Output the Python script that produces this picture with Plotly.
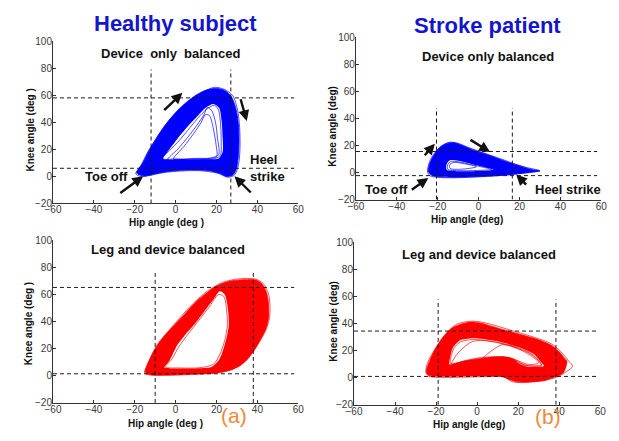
import plotly.graph_objects as go

W, H = 619, 441
FONT = "Liberation Sans, Arial, Helvetica, sans-serif"
BLUE = "#0000FF"
RED = "#FF0000"

# ---------------- gait loops: (hip angle, knee angle) in degrees ----------------
# Healthy subject, device only balanced
hs_dev_outer = [(-19, 2.5), (-16, 10), (-13, 19), (-9, 29), (-4.5, 39), (0.5, 48), (5.5, 55),
                (10.5, 60.5), (15.5, 64), (20, 65), (24, 63.5), (27, 59.5), (29.3, 51), (30.6, 40),
                (31, 27), (30.6, 14), (29.6, 5), (27.8, 0.8), (25, 0), (21.5, 2.3), (16.5, 4.2),
                (10, 4.8), (3, 4.6), (-4, 3.6), (-10.5, 1.8), (-15.5, 0.3), (-19, 2.5)]
hs_dev_inner = [(-6, 13), (-3, 20), (1, 28), (6, 37), (11, 45), (15, 51), (18.5, 53.5), (21.3, 50.5),
                (22.5, 41), (23, 29), (23, 18), (21, 13.3), (15, 12.6), (8, 12.5), (1, 12.7), (-6, 13)]
hs_dev_cycles = [
    [(-19.5, 2), (-17, 8), (-14, 17), (-10, 27), (-5, 38), (1, 48), (7, 56), (13, 62), (19, 65.8),
     (24, 64.2), (28, 59.5), (30.3, 49), (31.3, 36), (31.5, 22), (30.8, 9), (28.8, 1), (25.5, -0.6),
     (20.5, 2.4), (12, 4.2), (3, 4), (-6, 2.8), (-13, 0.6), (-17, -0.2), (-19.5, 2)],
    [(-4, 12.2), (1, 20), (6, 29), (10.5, 38), (14, 46), (15.5, 51), (17.5, 49), (19.5, 40),
     (20.5, 28), (21, 16), (15, 13), (5, 12.6), (-4, 12.2)],
    [(-1, 12.8), (4, 22), (9, 32), (12.5, 40), (14.5, 45.5), (16.5, 45), (18.5, 35), (19.8, 23),
     (20, 14.5), (10, 13.3), (-1, 12.8)],
    [(-7, 13), (-3, 19), (2, 27), (7, 36), (12, 45), (16, 50.5), (19, 52.5), (21, 49), (22, 38),
     (22.3, 25), (22, 16), (19.5, 13.2), (10, 12.8), (0, 12.9), (-7, 13)],
]

# Stroke patient, device only balanced
sp_dev_outer = [(-24.6, 0.8), (-23.8, 7), (-22, 12.5), (-19, 18.5), (-15.5, 21.5), (-12, 22),
                (-8, 20), (-3, 16.8), (4, 13.3), (10, 10), (16, 6.8), (22, 3.9), (26.5, 2),
                (29.8, 1.2), (26, 0.3), (20, -0.8), (14, -1.8), (5, -2.6), (-4, -3.2), (-12, -3.5),
                (-19, -3.2), (-23, -2), (-24.6, 0.8)]
sp_dev_inner = [(-15.5, 1.8), (-15.8, 5.5), (-14, 9), (-10, 8.6), (-4, 6.5), (2, 4.3), (7.2, 2.1),
                (2, 1.3), (-5, 0.9), (-11, 1), (-15.5, 1.8)]
sp_dev_cycles = [
    [(-25, 0.5), (-24, 8), (-21.5, 14.5), (-18, 19.8), (-14, 22.4), (-10, 21.5), (-5, 18.5),
     (3, 14.2), (11, 10), (18, 6.2), (24, 3.5), (30, 1.3), (25, 0), (17, -1.2), (7, -2.6),
     (-4, -3.5), (-13, -3.9), (-20, -3.6), (-23.8, -2.4), (-25, 0.5)],
    [(-15, 2.2), (-15.2, 5.5), (-13.5, 8.2), (-9.5, 7.8), (-3.5, 5.8), (2.5, 3.8), (6.5, 2.2),
     (1, 1.6), (-6, 1.3), (-12, 1.5), (-15, 2.2)],
    [(-14, 3), (-14, 6), (-12, 7.5), (-7, 6.5), (-1, 4.3), (-7, 2.6), (-14, 3)],
]

# Healthy subject, leg and device balanced
hs_leg_outer = [(-14.7, 2.5), (-12.7, 12), (-8.7, 23), (-4.5, 31), (-0.7, 37.3), (3.5, 44),
                (7.3, 50.4), (11, 56), (15.2, 61.2), (19, 65.5), (23.2, 68.4), (27, 70), (31.2, 70.8),
                (35, 71), (39.1, 70.8), (42.2, 68), (44.3, 62), (45.3, 55), (45.5, 44.4), (44.8, 38),
                (43.6, 33), (40.8, 25), (38, 18), (35, 12), (31.5, 7.5), (27, 4.3), (21.6, 2.5),
                (14, 1.6), (7.3, 1.3), (0, 0.8), (-5.5, 0.6), (-11.9, 0.8), (-14.7, 2.5)]
hs_leg_inner = [(-5.5, 6.1), (-3.1, 10.9), (0.9, 22.9), (4.5, 30), (8.8, 37.3), (12.5, 44.5),
                (16, 51.6), (19, 57.5), (21.6, 62.4), (24, 60), (25.6, 49.2), (26, 37.3), (25.2, 30),
                (24, 22.9), (22.5, 16), (20.8, 10.9), (17.6, 6.5), (12, 5.6), (7.3, 5.4), (2, 5.4),
                (-2.3, 5.4), (-5.5, 6.1)]
hs_leg_cycles = [
    [(-15.2, 2), (-13, 11), (-9, 23), (-1, 37.5), (7, 51), (15, 62), (23, 69), (31, 71.6),
     (39, 71.5), (43, 68), (45.5, 60), (46.2, 50), (45.8, 42), (44.2, 34), (41, 25), (37.5, 17),
     (33, 10), (27.5, 5), (21, 2.4), (8, 1), (-5, 0.4), (-12, 0.5), (-15.2, 2)],
    [(-14, 2.6), (-11, 13), (-6, 26), (2, 40), (10, 53), (18, 63), (26, 68.5), (33, 70),
     (38.5, 69), (41.5, 63), (42.8, 52), (42.3, 40), (40, 30), (36, 20), (31, 11), (25, 5.2),
     (15, 2.8), (0, 1.7), (-10, 1.5), (-14, 2.6)],
    [(-5, 6.5), (-2, 12), (2, 22.5), (9, 36.5), (16, 50), (21, 60), (23.6, 58.5), (25, 48),
     (25.3, 37), (24, 26), (21.5, 15.5), (18.5, 8.5), (12, 6), (2, 5.8), (-5, 6.5)],
]

# Stroke patient, leg and device balanced
sp_leg_outer = [(-24.5, 3), (-24.6, 6.3), (-23, 13), (-20.6, 20.7), (-18, 27), (-15.1, 32.7),
                (-12.5, 36.5), (-9.5, 38.7), (-5.5, 40.5), (-1.6, 41.1), (2, 40.3), (5.6, 38.7),
                (11, 36.3), (16.7, 33.9), (22, 31.6), (27.8, 29.1), (32, 26.8), (35.7, 24.3),
                (38.5, 21.3), (40.5, 18.3), (42.5, 14.5), (43.7, 12.3), (43, 7), (42.1, 3.9),
                (39.8, 1.6), (37.3, 0.3), (33, -2), (27, -3), (20, -3), (16, -1.5), (12, 1),
                (4, 1.3), (-4, 1.3), (-11.9, 1.1), (-19.9, 1.1), (-23, 1.4), (-24.5, 3)]
sp_leg_inner = [(-13.5, 9.9), (-13, 16), (-11.9, 21.9), (-10, 25.5), (-8, 27.9), (-4.5, 28.9),
                (-0.8, 29.1), (5, 28), (10.3, 26.7), (16, 24.4), (21.4, 21.9), (25, 19.5),
                (27.8, 17.1), (30.5, 12.5), (32.5, 8.7), (28.5, 8.1), (24.6, 8.2), (21.5, 9.8),
                (19.9, 11.1), (17.5, 13.8), (15.1, 15.2), (11, 15.6), (7.1, 15.4), (2, 14.3),
                (-4, 13.1), (-9, 11.5), (-13.5, 9.9)]
sp_leg_cycles = [
    [(-25, 4), (-24.2, 11), (-21, 20), (-16, 31), (-10, 39.5), (-2, 41.8), (6, 39.8), (17, 34.8),
     (28, 29.8), (36, 25.2), (41, 19), (44.5, 12.5), (46.5, 8.5), (43.5, 4.5), (38, 0),
     (30, -2.3), (22, -3.6), (17, -2.8), (13, 0.6), (4, 0.8), (-8, 0.4), (-19, 0.2),
     (-23.5, 1.2), (-25, 4)],
    [(-12.5, 10), (-10, 17), (-6.5, 22.5), (-2.4, 26.7), (3, 27.5), (10, 26), (18, 22.5),
     (25, 18.5), (29, 14), (31.5, 9.5), (26, 8.7), (21, 10.8), (16, 14.5), (9, 15.6), (0, 14.5),
     (-7, 12.2), (-12.5, 10)],
    [(2.4, 13.5), (5, 17.5), (8.5, 21.5), (11.9, 24.3), (16, 23.8), (22, 20), (27, 15.5),
     (30, 11), (25, 9.8), (20, 12.5), (14, 15.4), (7, 15), (2.4, 13.5)],
    [(-13, 10.5), (-12.5, 17), (-11, 22.5), (-8, 26.5), (-3, 28.2), (3, 27.8), (10, 26),
     (17, 23.5), (23, 20.5), (27.5, 16.5), (30.5, 11.5), (31.5, 9), (27, 8.7), (23, 9.3),
     (20.5, 11.5), (17, 14.3), (12, 15.1), (5, 14.8), (-1, 13.7), (-7, 12), (-13, 10.5)],
]

# dashed guide lines: hip values (vertical), knee values (horizontal)
hs_dev_guide_hip, hs_dev_guide_knee = [-12, 27], [58, 6]
sp_dev_guide_hip, sp_dev_guide_knee = [-20.6, 16.5], [15.5, -2.3]
hs_leg_guide_hip, hs_leg_guide_knee = [-10, 38], [65.3, 1.5]
sp_leg_guide_hip, sp_leg_guide_knee = [-19, 38.4], [34.5, 1]

HIP_TICKS = [-60, -40, -20, 0, 20, 40, 60]
KNEE_TICKS = [-20, 0, 20, 40, 60, 80, 100]

# ---------------- panel layout (page pixels: left, top, right, bottom) ----------------
panels = [
    dict(box=(46, 36, 297, 203), color=BLUE, outer=hs_dev_outer, inner=hs_dev_inner,
         cycles=hs_dev_cycles, ghip=hs_dev_guide_hip, gknee=hs_dev_guide_knee, vtop=79,
         title="Device\u00a0 only\u00a0 balanced", tpos=(166.7, 49),
         xlab="Hip angle (deg )", xlpos=(162, 223), ylab="Knee angle (deg )", ylpos=(23, 127.5)),
    dict(box=(356, 32, 607, 199), color=BLUE, outer=sp_dev_outer, inner=sp_dev_inner,
         cycles=sp_dev_cycles, ghip=sp_dev_guide_hip, gknee=sp_dev_guide_knee, vtop=47.5,
         title="Device only balanced", tpos=(490.8, 51.7),
         xlab="Hip angle (deg)", xlpos=(470, 219), ylab="Knee angle (deg)", ylpos=(332, 123.5)),
    dict(box=(46, 241, 297, 408), color=RED, outer=hs_leg_outer, inner=hs_leg_inner,
         cycles=hs_leg_cycles, ghip=hs_leg_guide_hip, gknee=hs_leg_guide_knee, vtop=78,
         title="Leg and device balanced", tpos=(164, 250.7),
         xlab="Hip angle (deg )", xlpos=(161, 429), ylab="Knee angle (deg )", ylpos=(21, 326.5)),
    dict(box=(354, 243, 606, 410), color=RED, outer=sp_leg_outer, inner=sp_leg_inner,
         cycles=sp_leg_cycles, ghip=sp_leg_guide_hip, gknee=sp_leg_guide_knee, vtop=58,
         title="Leg and device balanced", tpos=(482, 255),
         xlab="Hip angle (deg)", xlpos=(472, 430), ylab="Knee angle (deg)", ylpos=(333, 324)),
]


def px(x):
    return x / W


def py(y):
    return 1 - y / H


def xs(pts):
    return [p[0] for p in pts]


def ys(pts):
    return [p[1] for p in pts]


fig = go.Figure()
layout = dict(width=W, height=H, margin=dict(l=0, r=0, t=0, b=0), showlegend=False,
              paper_bgcolor="white", plot_bgcolor="white", font=dict(family=FONT))
annotations = []

for i, p in enumerate(panels):
    sfx = "" if i == 0 else str(i + 1)
    xa, ya = "x" + sfx, "y" + sfx
    l, t, r, b = p["box"]
    axis_common = dict(showgrid=False, zeroline=False, showline=True, linecolor="#333",
                       linewidth=1, ticks="inside", ticklen=3, tickcolor="#333",
                       tickfont=dict(size=10, color="#3a3a3a", family=FONT), fixedrange=True)
    layout["xaxis" + sfx] = dict(domain=[px(l), px(r)], anchor=ya, range=[-60, 60],
                                 tickvals=HIP_TICKS, ticklabelstandoff=-3, **axis_common)
    layout["yaxis" + sfx] = dict(domain=[py(b), py(t)], anchor=xa, range=[-20, 100],
                                 tickvals=KNEE_TICKS, ticklabelstandoff=-2, **axis_common)

    c = p["color"]
    spl = dict(shape="spline", smoothing=0.8)
    # dense band of overlapping cycles
    fig.add_trace(go.Scatter(x=xs(p["outer"]), y=ys(p["outer"]), xaxis=xa, yaxis=ya,
                             mode="lines", fill="toself", fillcolor=c,
                             line=dict(color=c, width=0.8, **spl), hoverinfo="skip"))
    fig.add_trace(go.Scatter(x=xs(p["inner"]), y=ys(p["inner"]), xaxis=xa, yaxis=ya,
                             mode="lines", fill="toself", fillcolor="white",
                             line=dict(color="white", width=0, **spl), hoverinfo="skip"))
    # individual cycles that stray from the band
    for cyc in p["cycles"]:
        fig.add_trace(go.Scatter(x=xs(cyc), y=ys(cyc), xaxis=xa, yaxis=ya, mode="lines",
                                 line=dict(color=c, width=0.7, **spl), hoverinfo="skip"))
    # dashed guide lines
    gx, gy = [], []
    for h in p["ghip"]:
        gx += [h, h, None]
        gy += [-20, p["vtop"], None]
    for k in p["gknee"]:
        gx += [-60, 58, None]
        gy += [k, k, None]
    fig.add_trace(go.Scatter(x=gx, y=gy, xaxis=xa, yaxis=ya, mode="lines",
                             line=dict(color="#1a1a1a", width=1, dash="4px,3px"),
                             hoverinfo="skip"))

    annotations.append(dict(text="<b>%s</b>" % p["title"], x=px(p["tpos"][0]), y=py(p["tpos"][1]),
                            xref="paper", yref="paper", showarrow=False, xanchor="center",
                            yanchor="middle", font=dict(size=13, color="#111")))
    annotations.append(dict(text="<b>%s</b>" % p["xlab"], x=px(p["xlpos"][0]), y=py(p["xlpos"][1]),
                            xref="paper", yref="paper", showarrow=False, xanchor="center",
                            yanchor="middle", font=dict(size=10, color="#111")))
    annotations.append(dict(text="<b>%s</b>" % p["ylab"], x=px(p["ylpos"][0]), y=py(p["ylpos"][1]),
                            xref="paper", yref="paper", showarrow=False, xanchor="center",
                            yanchor="middle", textangle=-90, font=dict(size=10, color="#111")))

# direction arrows: (tail hip, tail knee, head hip, head knee)
arrows = {
    "": [(-6.3, 48, 3.3, 61.7), (31.6, 58.1, 34.8, 40.9), (-27.8, -13, -15.9, 0.1),
         (37.5, -13, 28.8, 0.1)],
    "2": [(-27, 11.6, -21.4, 21.2), (-4.7, 24.8, 5.6, 15.2), (-33.4, -13.5, -24.6, -4),
          (24, -10, 18.4, -1.5)],
}
for sfx, lst in arrows.items():
    for tx, ty, hx, hy in lst:
        annotations.append(dict(x=hx, y=hy, ax=tx, ay=ty, xref="x" + sfx, yref="y" + sfx,
                                axref="x" + sfx, ayref="y" + sfx, text="", showarrow=True,
                                arrowhead=2, arrowsize=0.9, arrowwidth=2.4, arrowcolor="#111"))

# event labels, group titles, panel letters (page pixel positions)
texts = [
    ("<b>Toe off</b>", 76.7, 175.7, "left", 13, "#111"),
    ("<b>Heel<br>strike</b>", 245.7, 167, "left", 13, "#111"),
    ("<b>Toe off</b>", 363.3, 188.3, "left", 13, "#111"),
    ("<b>Heel strike</b>", 536.7, 188.3, "left", 13, "#111"),
    ("<b>Healthy subject</b>", 171, 18, "center", 22, "#1515CC"),
    ("<b>Stroke patient</b>", 490.5, 20, "center", 22, "#1515CC"),
    ("(a)", 231, 421, "center", 21, "#F0883A"),
    ("(b)", 553, 421.7, "center", 21, "#F0883A"),
]
for txt, x, y, anchor, size, color in texts:
    annotations.append(dict(text=txt, x=px(x), y=py(y), xref="paper", yref="paper",
                            showarrow=False, xanchor=anchor, yanchor="middle", align="left",
                            font=dict(size=size, color=color)))

layout["annotations"] = annotations
fig.update_layout(**layout)
fig.write_html("out.html")
